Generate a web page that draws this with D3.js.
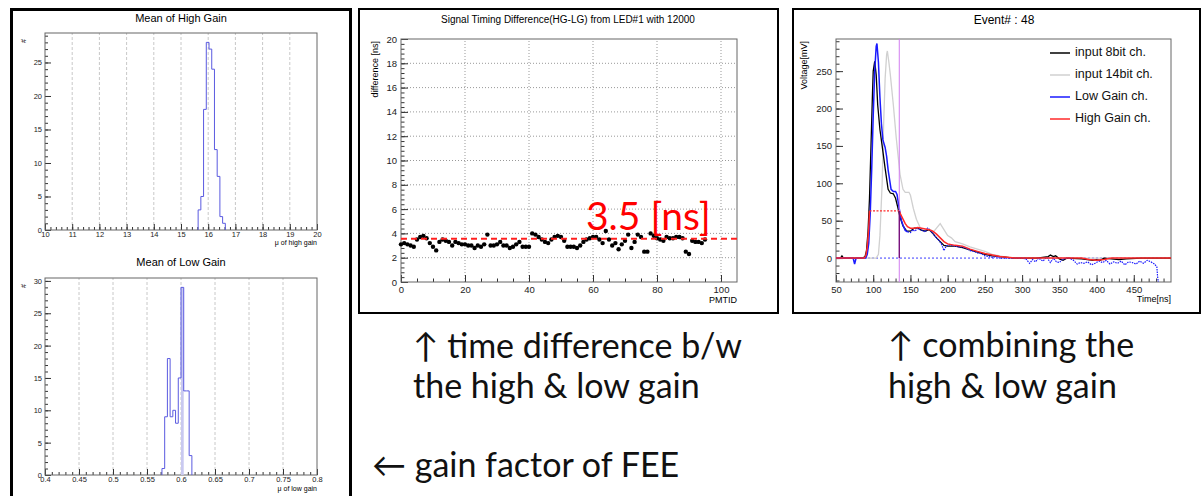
<!DOCTYPE html>
<html>
<head>
<meta charset="utf-8">
<script src="https://cdn.jsdelivr.net/npm/d3@7"></script>
<style>
body { margin: 0; background: #fff; }
</style>
</head>
<body>
<div id="canvas"></div>
<script>
"use strict"
let svgWidth = 1204;
let svgHeight = 496;

// ---- data ----
// Mean of High Gain histogram: bin edges and counts
let highGainEdges = [15.63, 15.73, 15.83, 15.93, 16.03, 16.13, 16.23, 16.33, 16.43, 16.53, 16.63];
let highGainCounts = [3, 5, 18, 28, 27, 24, 12, 8, 2, 1];
let highGainTicks = [10, 11, 12, 13, 14, 15, 16, 17, 18, 19, 20];
let highGainYTicks = [0, 5, 10, 15, 20, 25];

// Mean of Low Gain histogram
let lowGainEdges = [0.572, 0.576, 0.580, 0.584, 0.588, 0.592, 0.596, 0.600, 0.604, 0.608, 0.612, 0.616];
let lowGainCounts = [1, 9, 18, 9, 10, 8, 15, 29, 13, 13, 3];
let lowGainTicks = [0.4, 0.45, 0.5, 0.55, 0.6, 0.65, 0.7, 0.75, 0.8];
let lowGainYTicks = [0, 5, 10, 15, 20, 25, 30];

// timing difference HG-LG per PMTID (index = PMTID)
let timingDiff = [
    3.1, 3.2, 3.1, 3.0, 2.9, 3.5, 3.7, 3.8, 3.6, 3.2,
    2.9, 2.6, 3.3, 3.5, 3.4, 3.3, 3.0, 3.3, 3.2, 3.1,
    3.1, 3.0, 3.0, 2.8, 3.0, 2.9, 3.1, 3.9, 3.0, 3.0,
    3.1, 3.3, 3.0, 3.0, 2.8, 2.9, 3.1, 3.3, 2.9, 2.9,
    2.9, 4.0, 3.9, 3.7, 3.5, 3.3, 3.2, 3.5, 3.7, 3.8,
    3.7, 3.4, 2.9, 2.9, 2.9, 2.8, 3.0, 3.3, 3.5, 3.6,
    3.7, 3.7, 3.5, 3.2, 4.2, 3.5, 3.0, 3.2, 2.7, 3.1,
    3.4, 3.9, 2.8, 3.3, 3.9, 3.7, 2.5, 2.5, 4.0, 3.8,
    3.6, 3.5, 3.4, 3.7, 3.6, 3.6, 3.7, 3.7, 3.6, 2.5,
    2.3, 3.4, 3.3, 3.3, 3.2, 3.5
];
let timingMean = 3.55;
let timingXTicks = [0, 20, 40, 60, 80, 100];
let timingYTicks = [0, 2, 4, 6, 8, 10, 12, 14, 16, 18, 20];

// Event #48 waveforms: [time ns, voltage mV]
let wave8bit = [[50,0],[56,0],[58,3],[60,0],[86,0],[89,2],[91,10],[93,35],[95,80],[97,150],[99,220],[100,250],
    [102,263],[104,245],[106,205],[109,172],[112,150],[116,120],[120,92],[123,87],[127,86],[130,80],[133,68],
    [136,55],[140,43],[145,36],[150,36],[155,40],[160,40],[165,37],[170,36],[175,38],[180,33],[185,27],[190,22],
    [195,17],[200,16],[210,16],[220,14],[230,11],[240,8],[250,5],[260,3],[270,2],[280,1],[290,0],[320,0],[335,2],
    [338,4],[342,2],[345,3],[350,-1],[355,-3],[360,0],[380,-1],[395,-3],[400,-2],[405,-3],[410,0],[430,-2],
    [440,-1],[460,0],[500,0]];
let wave14bit = [[50,0],[104,0],[107,5],[109,30],[112,100],[114,180],[116,240],[118,272],[119,277],[121,262],
    [123,245],[127,205],[131,160],[136,112],[140,92],[143,88],[148,88],[150,84],[154,66],[158,52],[163,41],
    [167,37],[172,37],[177,38],[181,35],[185,40],[190,46],[195,38],[200,30],[205,27],[210,22],[220,19],[230,15],
    [240,12],[250,9],[260,5],[270,3],[280,1],[300,0],[500,0]];
let waveLowPulse = [[50,0],[73,0],[75,-8],[77,0],[90,0],[92,5],[94,20],[96,60],[98,120],[100,190],[102,250],
    [104,283],[105,287],[107,262],[109,215],[111,180],[113,158],[116,148],[118,136],[120,118],[122,105],
    [124,92],[127,89],[130,89],[132,85],[134,72],[136,60],[138,50],[140,44],[143,37],[146,35]];
let waveLowTail = [[146,35],[150,34],[153,38],[156,36],[160,40],[163,38],[166,37],[170,35],[173,40],[176,38],
    [180,33],[184,28],[188,24],[192,18],[195,10],[198,16],[202,18],[206,17],[210,16],[215,15],[220,15],[225,13],
    [230,10],[235,9],[240,7],[245,6],[250,3],[255,2],[260,1],[265,2],[270,0],[300,0],[305,-1],[310,-7],[314,-2],
    [318,-5],[322,0],[328,-4],[333,1],[338,-6],[342,0],[346,-5],[350,-6],[355,-1],[362,0],[368,-2],[374,-8],
    [378,-6],[383,-7],[388,-5],[393,-9],[398,-7],[403,-4],[408,-6],[413,-3],[418,-8],[423,-5],[428,-7],[433,-4],
    [438,-9],[443,-5],[448,-6],[453,-8],[458,-4],[463,-7],[468,-3],[473,-5],[478,-8],[481,-12],[482,-25],[483,-32]];
let waveHighRise = [[50,0],[88,0],[90,3],[92,15],[94,40],[95,63]];
let waveHighSat = [[95,63],[135,63]];
let waveHighTail = [[135,63],[137,58],[140,52],[143,46],[146,42],[150,40],[155,40],[160,41],[165,40],[170,39],
    [175,38],[180,36],[185,32],[190,27],[195,22],[200,19],[205,18],[210,17],[220,16],[230,12],[240,9],[250,6],
    [260,4],[270,2],[280,1],[290,0],[380,0],[390,-2],[400,-3],[410,-2],[420,0],[500,0]];
let cutTime = 135;
let waveXTicks = [50, 100, 150, 200, 250, 300, 350, 400, 450];
let waveYTicks = [0, 50, 100, 150, 200, 250];
let legendLabels = ["input 8bit ch.", "input 14bit ch.", "Low Gain ch.", "High Gain ch."];
let legendColors = ["#000000", "#d0d0d0", "#1a1aff", "#ff2a2a"];

let plotFont = "Liberation Sans, Arial, sans-serif";
let slideFont = "Lato, sans-serif";

// ---- svg ----
let svg = d3.select("#canvas")
    .append("svg")
    .attr("width", svgWidth)
    .attr("height", svgHeight)
    .style("font-family", plotFont);

svg.append("rect")
    .attr("width", svgWidth)
    .attr("height", svgHeight)
    .attr("fill", "white");

// ROOT style frame with ticks pointing inside
function rootAxes(xs, ys, o) {
    let yb = ys.range()[0];
    let xl = xs.range()[0];

    let styleAxis = function(g) {
        g.select(".domain").remove();
        g.attr("font-family", plotFont)
            .attr("font-size", o.font);
        g.selectAll("line").attr("stroke", "#333");
        g.selectAll("text").attr("fill", "#222");
    };

    svg.append("g")
        .attr("transform", "translate(0," + yb + ")")
        .call(d3.axisBottom(xs).tickValues(o.xMinor).tickSize(-o.xLen / 2).tickFormat(""))
        .call(styleAxis);
    svg.append("g")
        .attr("transform", "translate(0," + yb + ")")
        .call(d3.axisBottom(xs).tickValues(o.xMajor).tickSize(-o.xLen).tickPadding(o.xPad).tickFormat(function(d) { return d; }))
        .call(styleAxis);
    svg.append("g")
        .attr("transform", "translate(" + xl + ",0)")
        .call(d3.axisLeft(ys).tickValues(o.yMinor).tickSize(-o.yLen / 2).tickFormat(""))
        .call(styleAxis);
    svg.append("g")
        .attr("transform", "translate(" + xl + ",0)")
        .call(d3.axisLeft(ys).tickValues(o.yMajor).tickSize(-o.yLen).tickPadding(o.yPad).tickFormat(function(d) { return d; }))
        .call(styleAxis);

    svg.append("rect")
        .attr("x", xs.range()[0])
        .attr("y", ys.range()[1])
        .attr("width", xs.range()[1] - xs.range()[0])
        .attr("height", ys.range()[0] - ys.range()[1])
        .attr("fill", "none")
        .attr("stroke", "#666")
        .attr("stroke-width", 1);
}

function histPoints(edges, counts, xs, ys) {
    let pts = [[xs(edges[0]), ys(0)]];
    for (let i = 0; i < counts.length; i++) {
        pts.push([xs(edges[i]), ys(counts[i])]);
        pts.push([xs(edges[i + 1]), ys(counts[i])]);
    }
    pts.push([xs(edges[edges.length - 1]), ys(0)]);
    return pts;
}

function addText(x, y, str, size, anchor) {
    return svg.append("text")
        .attr("x", x)
        .attr("y", y)
        .attr("font-size", size)
        .attr("text-anchor", anchor || "start")
        .text(str);
}

// ---- panel borders ----
svg.append("rect")
    .attr("x", 11.5).attr("y", 9.5)
    .attr("width", 339).attr("height", 500)
    .attr("fill", "none").attr("stroke", "black").attr("stroke-width", 3);
svg.append("rect")
    .attr("x", 359).attr("y", 9)
    .attr("width", 419).attr("height", 304)
    .attr("fill", "none").attr("stroke", "black").attr("stroke-width", 2);
svg.append("rect")
    .attr("x", 793).attr("y", 9)
    .attr("width", 407).attr("height", 304)
    .attr("fill", "none").attr("stroke", "black").attr("stroke-width", 2);

// ---- Mean of High Gain ----
let xHG = d3.scaleLinear().domain([10, 20]).range([45, 317]);
let yHG = d3.scaleLinear().domain([0, 29.4]).range([230, 33]);

svg.append("g").selectAll("line")
    .data(highGainTicks.slice(1, -1))
    .join("line")
    .attr("x1", function(d) { return xHG(d); })
    .attr("x2", function(d) { return xHG(d); })
    .attr("y1", yHG.range()[0])
    .attr("y2", yHG.range()[1])
    .attr("stroke", "#c8c8c8")
    .attr("stroke-dasharray", "3,2");

rootAxes(xHG, yHG, {
    xMajor: highGainTicks, xMinor: d3.range(50, 101, 1).map(function(d) { return d / 5; }),
    yMajor: highGainYTicks, yMinor: d3.range(0, 30),
    xLen: 6, yLen: 6, xPad: 2, yPad: 3, font: 7.5
});

svg.append("path")
    .attr("d", d3.line()(histPoints(highGainEdges, highGainCounts, xHG, yHG)))
    .attr("fill", "none")
    .attr("stroke", "#5a5ae0")
    .attr("stroke-width", 1);

addText(181, 22, "Mean of High Gain", 11, "middle");
addText(317, 245, "\u03bc of high gain", 7, "end");
svg.append("text")
    .attr("transform", "translate(26,39) rotate(-90)")
    .attr("font-size", 7)
    .attr("text-anchor", "end")
    .text("#");

// ---- Mean of Low Gain ----
let xLG = d3.scaleLinear().domain([0.4, 0.8]).range([45, 317]);
let yLG = d3.scaleLinear().domain([0, 30.45]).range([475, 278]);

svg.append("g").selectAll("line")
    .data(lowGainTicks.slice(1, -1))
    .join("line")
    .attr("x1", function(d) { return xLG(d); })
    .attr("x2", function(d) { return xLG(d); })
    .attr("y1", yLG.range()[0])
    .attr("y2", yLG.range()[1])
    .attr("stroke", "#c8c8c8")
    .attr("stroke-dasharray", "3,2");

rootAxes(xLG, yLG, {
    xMajor: lowGainTicks, xMinor: d3.range(40, 81).map(function(d) { return d / 100; }),
    yMajor: lowGainYTicks, yMinor: d3.range(0, 31),
    xLen: 6, yLen: 6, xPad: 2, yPad: 3, font: 7.5
});

// the tallest bin is drawn shaded
let peakBin = lowGainCounts.indexOf(d3.max(lowGainCounts));
svg.append("rect")
    .attr("x", xLG(lowGainEdges[peakBin]))
    .attr("y", yLG(lowGainCounts[peakBin]))
    .attr("width", xLG(lowGainEdges[peakBin + 1]) - xLG(lowGainEdges[peakBin]))
    .attr("height", yLG(0) - yLG(lowGainCounts[peakBin]))
    .attr("fill", "#c9c9f0");

svg.append("path")
    .attr("d", d3.line()(histPoints(lowGainEdges, lowGainCounts, xLG, yLG)))
    .attr("fill", "none")
    .attr("stroke", "#5a5ae0")
    .attr("stroke-width", 1);

addText(181, 266, "Mean of Low Gain", 11, "middle");
addText(317, 491, "\u03bc of low gain", 7, "end");
svg.append("text")
    .attr("transform", "translate(26,284) rotate(-90)")
    .attr("font-size", 7)
    .attr("text-anchor", "end")
    .text("#");

// ---- Signal Timing Difference ----
let xT = d3.scaleLinear().domain([0, 105]).range([401, 737]);
let yT = d3.scaleLinear().domain([0, 20]).range([282, 39]);

svg.append("g").selectAll("line")
    .data(timingXTicks.slice(1))
    .join("line")
    .attr("x1", function(d) { return xT(d); })
    .attr("x2", function(d) { return xT(d); })
    .attr("y1", yT.range()[0])
    .attr("y2", yT.range()[1])
    .attr("stroke", "#999")
    .attr("stroke-dasharray", "1,2");
svg.append("g").selectAll("line")
    .data(timingYTicks.slice(1, -1))
    .join("line")
    .attr("x1", xT.range()[0])
    .attr("x2", xT.range()[1])
    .attr("y1", function(d) { return yT(d); })
    .attr("y2", function(d) { return yT(d); })
    .attr("stroke", "#999")
    .attr("stroke-dasharray", "1,2");

rootAxes(xT, yT, {
    xMajor: timingXTicks, xMinor: d3.range(0, 105, 5),
    yMajor: timingYTicks, yMinor: d3.range(0, 51).map(function(d) { return d * 0.4; }),
    xLen: 7, yLen: 7, xPad: 4, yPad: 4, font: 9.5
});

svg.append("g").selectAll("circle")
    .data(timingDiff)
    .join("circle")
    .attr("cx", function(d, i) { return xT(i); })
    .attr("cy", function(d) { return yT(d); })
    .attr("r", 2.2)
    .attr("fill", "black");

svg.append("line")
    .attr("x1", xT.range()[0])
    .attr("x2", xT.range()[1])
    .attr("y1", yT(timingMean))
    .attr("y2", yT(timingMean))
    .attr("stroke", "#ff2020")
    .attr("stroke-width", 2)
    .attr("stroke-dasharray", "6,4");

addText(568, 23, "Signal Timing Difference(HG-LG) from LED#1 with 12000", 10, "middle");
addText(737, 303, "PMTID", 9, "end");
svg.append("text")
    .attr("transform", "translate(378,41) rotate(-90)")
    .attr("font-size", 9)
    .attr("text-anchor", "end")
    .text("difference [ns]");
addText(586, 230, "3.5 [ns]", 39)
    .attr("fill", "#ff0000")
    .style("font-family", slideFont);

// ---- Event# : 48 ----
let xW = d3.scaleLinear().domain([50, 500]).range([836, 1171]);
let yW = d3.scaleLinear().domain([-32, 293]).range([282, 39]);

rootAxes(xW, yW, {
    xMajor: waveXTicks, xMinor: d3.range(50, 500, 10),
    yMajor: waveYTicks, yMinor: d3.range(-30, 291, 10),
    xLen: 7, yLen: 7, xPad: 4, yPad: 4, font: 9.5
});

let waveLine = d3.line()
    .x(function(d) { return xW(d[0]); })
    .y(function(d) { return yW(d[1]); });

// baseline of the low gain channel
svg.append("line")
    .attr("x1", xW(50)).attr("x2", xW(500))
    .attr("y1", yW(0)).attr("y2", yW(0))
    .attr("stroke", "#3a3aff")
    .attr("stroke-dasharray", "2,2");

svg.append("path").attr("d", waveLine(wave14bit))
    .attr("fill", "none").attr("stroke", legendColors[1]).attr("stroke-width", 1.3);
svg.append("path").attr("d", waveLine(wave8bit))
    .attr("fill", "none").attr("stroke", legendColors[0]).attr("stroke-width", 1.3);
svg.append("path").attr("d", waveLine(waveLowPulse))
    .attr("fill", "none").attr("stroke", legendColors[2]).attr("stroke-width", 1.5);
svg.append("path").attr("d", waveLine(waveLowTail))
    .attr("fill", "none").attr("stroke", legendColors[2]).attr("stroke-width", 1.2)
    .attr("stroke-dasharray", "1.5,1");
svg.append("path").attr("d", waveLine(waveHighRise))
    .attr("fill", "none").attr("stroke", legendColors[3]).attr("stroke-width", 1.5);
svg.append("path").attr("d", waveLine(waveHighSat))
    .attr("fill", "none").attr("stroke", legendColors[3]).attr("stroke-width", 1.2)
    .attr("stroke-dasharray", "2,1.5");
svg.append("path").attr("d", waveLine(waveHighTail))
    .attr("fill", "none").attr("stroke", legendColors[3]).attr("stroke-width", 1.5);

// switch point between the channels
svg.append("line")
    .attr("x1", xW(cutTime)).attr("x2", xW(cutTime))
    .attr("y1", yW.range()[0]).attr("y2", yW.range()[1])
    .attr("stroke", "#d27ef0").attr("stroke-width", 1);
svg.append("line")
    .attr("x1", xW(cutTime)).attr("x2", xW(cutTime))
    .attr("y1", yW(0)).attr("y2", yW(waveHighSat[1][1]))
    .attr("stroke", "#6a006a").attr("stroke-width", 1.2);

for (let i = 0; i < legendLabels.length; i++) {
    let yPosition = 53 + i * 22;
    svg.append("line")
        .attr("x1", 1050).attr("x2", 1070)
        .attr("y1", yPosition).attr("y2", yPosition)
        .attr("stroke", legendColors[i]).attr("stroke-width", 1.5);
    addText(1075, yPosition, legendLabels[i], 12.5)
        .attr("dominant-baseline", "middle")
        .attr("fill", "#111");
}

addText(1004, 24, "Event# : 48", 12, "middle");
addText(1171, 302, "Time[ns]", 9, "end");
svg.append("text")
    .attr("transform", "translate(807,41) rotate(-90)")
    .attr("font-size", 9)
    .attr("text-anchor", "end")
    .text("Voltage[mV]");

// ---- captions ----
let captions = [
    {x: 413, y: 358, t: "\u2191 time difference b/w"},
    {x: 413, y: 398, t: "the high & low gain"},
    {x: 888, y: 357, t: "\u2191 combining the"},
    {x: 888, y: 398, t: "high & low gain"},
    {x: 372, y: 477, t: "\u2190 gain factor of FEE"}
];
for (let i = 0; i < captions.length; i++) {
    addText(captions[i].x, captions[i].y, captions[i].t, 34)
        .style("font-family", slideFont)
        .attr("fill", "#111");
}
</script>
</body>
</html>
